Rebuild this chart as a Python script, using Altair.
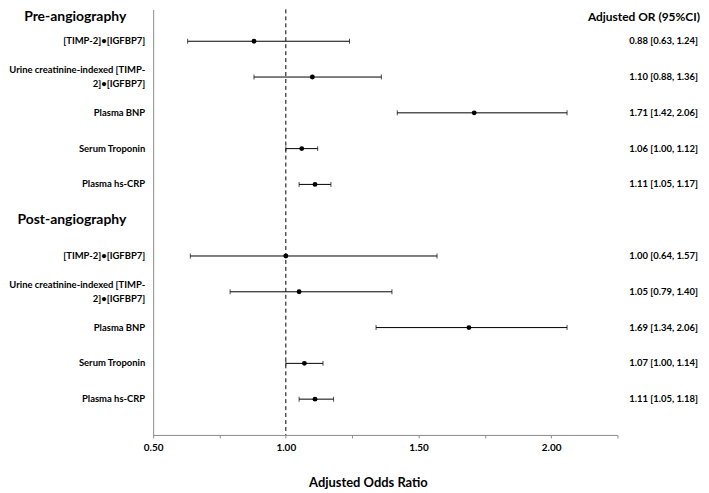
import altair as alt
import pandas as pd

labels = [
    "[TIMP-2]•[IGFBP7]",
    "Urine creatinine-indexed [TIMP-\n2]•[IGFBP7]",
    "Plasma BNP",
    "Serum Troponin",
    "Plasma hs-CRP",
]
pre_or = [0.88, 1.10, 1.71, 1.06, 1.11]
pre_lo = [0.63, 0.88, 1.42, 1.00, 1.05]
pre_hi = [1.24, 1.36, 2.06, 1.12, 1.17]
post_or = [1.00, 1.05, 1.69, 1.07, 1.11]
post_lo = [0.64, 0.79, 1.34, 1.00, 1.05]
post_hi = [1.57, 1.40, 2.06, 1.14, 1.18]
section_titles = ["Pre-angiography", "Post-angiography"]
x_ticks = [0.5, 0.75, 1.0, 1.25, 1.5, 1.75, 2.0, 2.25]

rows = []
for i, lab in enumerate(labels):
    rows.append(dict(label=lab, row=1 + i, OR=pre_or[i], lo=pre_lo[i], hi=pre_hi[i]))
for i, lab in enumerate(labels):
    rows.append(dict(label=lab, row=7 + i, OR=post_or[i], lo=post_lo[i], hi=post_hi[i]))
df = pd.DataFrame(rows)
df["txt"] = df.apply(lambda r: f"{r.OR:.2f} [{r.lo:.2f}, {r.hi:.2f}]", axis=1)
df["multi"] = df["label"].str.contains("\n")

titles_df = pd.DataFrame({"t": section_titles, "row": [0.33, 6.0]})
FONT = "Lato"

xs = alt.Scale(domain=[0.5, 2.25], nice=False, zero=False)
ys = alt.Scale(domain=[0.11, 12], reverse=True, nice=False, zero=False)

xaxis = alt.Axis(
    values=x_ticks, format=".2f",
    labelExpr="(datum.value*100) % 50 == 0 ? datum.label : ''",
    grid=False, domainColor="#8c8c8c", tickColor="#8c8c8c", tickSize=3,
    labelFont=FONT, labelFontWeight="bold", labelFontSize=10, labelColor="black",
    labelPadding=5, labelFlush=False, labelOverlap=False,
    title="Adjusted Odds Ratio", titleFont=FONT, titleFontWeight="bold",
    titleFontSize=13, titleColor="black", titleX=216, titleY=48,
    titleBaseline="middle", titleAlign="center",
)
yaxis = alt.Axis(labels=False, ticks=False, grid=False, title=None,
                 domainColor="#8c8c8c")

base = alt.Chart(df)

bars = base.mark_rule(color="black", strokeWidth=1).encode(
    x=alt.X("lo:Q", scale=xs, axis=xaxis),
    x2="hi:Q",
    y=alt.Y("row:Q", scale=ys, axis=yaxis),
)
cap_lo = base.mark_tick(color="black", thickness=1, size=5, orient="vertical").encode(
    x=alt.X("lo:Q", scale=xs), y=alt.Y("row:Q", scale=ys))
cap_hi = base.mark_tick(color="black", thickness=1, size=5, orient="vertical").encode(
    x=alt.X("hi:Q", scale=xs), y=alt.Y("row:Q", scale=ys))
pts = base.mark_circle(color="black", opacity=1, size=24).encode(
    x=alt.X("OR:Q", scale=xs), y=alt.Y("row:Q", scale=ys))

ref = alt.Chart(pd.DataFrame({"v": [1.0]})).mark_rule(
    color="black", strokeDash=[4, 3], strokeWidth=1).encode(
    x=alt.X("v:Q", scale=xs), y=alt.value(0), y2=alt.value(428))

lab_single = base.transform_filter("!datum.multi").mark_text(
    align="right", baseline="middle", font=FONT, fontWeight="bold",
    fontSize=9.5, color="black").encode(
    x=alt.value(-8), y=alt.Y("row:Q", scale=ys), text="label:N")

lab_multi = base.transform_filter("datum.multi").mark_text(
    align="right", baseline="middle", font=FONT, fontWeight="bold",
    fontSize=9.5, lineBreak="\n", lineHeight=14, dy=-7, color="black").encode(
    x=alt.value(-8), y=alt.Y("row:Q", scale=ys), text="label:N")

val_txt = base.mark_text(align="right", baseline="middle", font=FONT,
                         fontWeight="bold", fontSize=9.5, color="black").encode(
    x=alt.value(548), y=alt.Y("row:Q", scale=ys), text="txt:N")

hdr = alt.Chart(pd.DataFrame({"t": ["Adjusted OR (95%CI)"], "row": [0.33]})).mark_text(
    align="right", baseline="middle", font=FONT, fontWeight="bold",
    fontSize=12, color="black").encode(
    x=alt.value(550), y=alt.Y("row:Q", scale=ys), text="t:N")

sec = alt.Chart(titles_df).mark_text(
    align="right", baseline="middle", font=FONT, fontWeight="bold",
    fontSize=14, color="black").encode(
    x=alt.value(-27), y=alt.Y("row:Q", scale=ys), text="t:N")

chart = alt.layer(ref, bars, cap_lo, cap_hi, pts, lab_single, lab_multi,
                  val_txt, hdr, sec).properties(
    width=467, height=428,
    autosize=alt.AutoSizeParams(type="none"),
    padding={"left": 146, "top": 0, "right": 84, "bottom": 60},
).configure_view(stroke=None)

chart.save("out.html", embed_options={"renderer": "svg", "actions": False})
